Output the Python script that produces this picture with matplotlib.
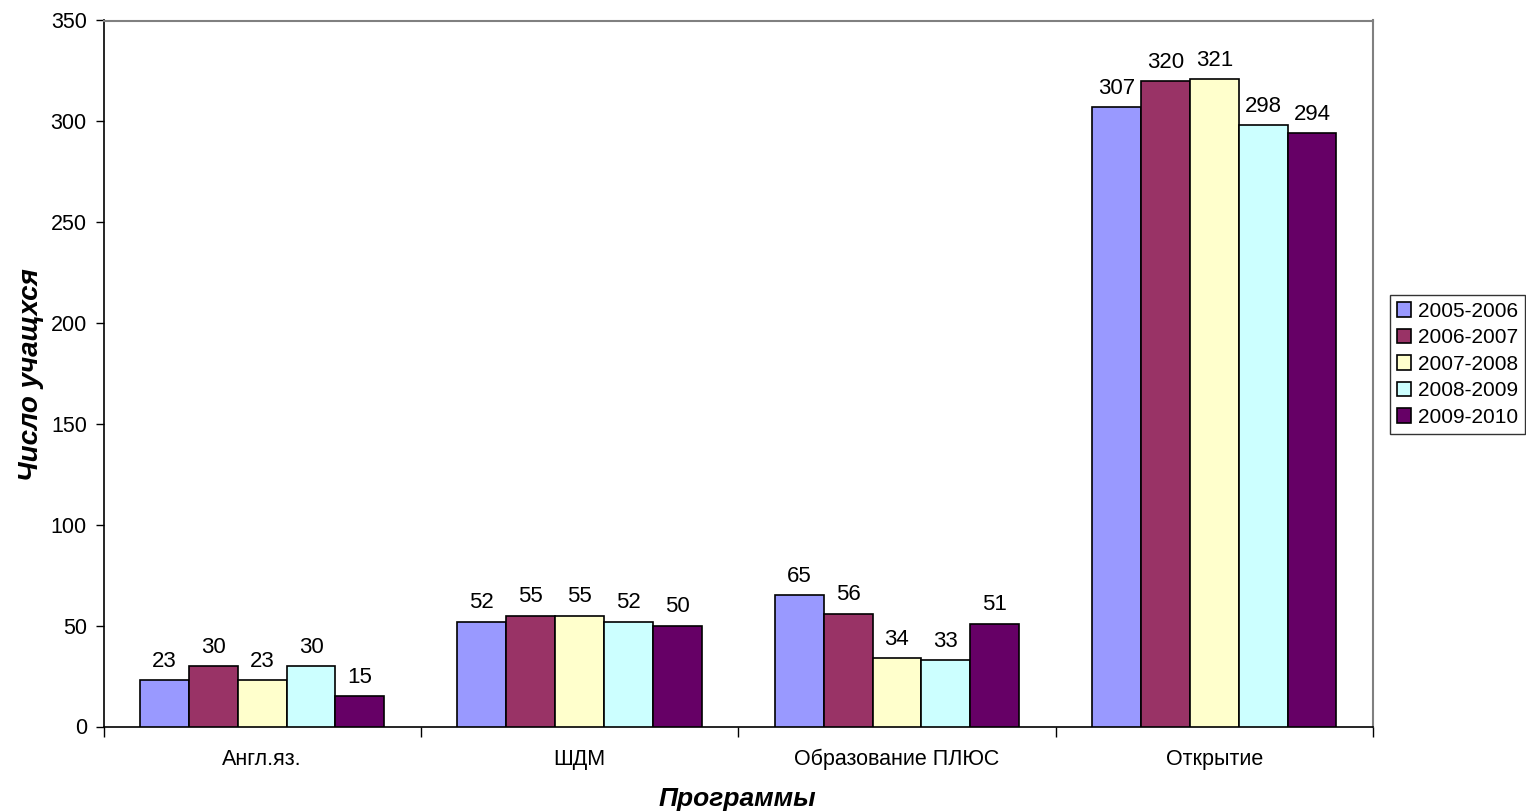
import matplotlib
matplotlib.use("Agg")
import matplotlib.pyplot as plt
import numpy as np

plt.rcParams['font.family'] = ['Liberation Sans', 'DejaVu Sans']

categories = ["Англ.яз.", "ШДМ", "Образование ПЛЮС", "Открытие"]
series_names = ["2005-2006", "2006-2007", "2007-2008", "2008-2009", "2009-2010"]
values = {
    "2005-2006": [23, 52, 65, 307],
    "2006-2007": [30, 55, 56, 320],
    "2007-2008": [23, 55, 34, 321],
    "2008-2009": [30, 52, 33, 298],
    "2009-2010": [15, 50, 51, 294],
}
colors = ["#9999FF", "#993366", "#FFFFCC", "#CCFFFF", "#660066"]
y_ticks = [0, 50, 100, 150, 200, 250, 300, 350]

fig = plt.figure(figsize=(15.26, 8.11), dpi=100)
ax = fig.add_axes([103.5 / 1526, 84.5 / 811, (1373 - 103.5) / 1526, (726.5 - 20.5) / 811])

n = len(series_names)
gap = 1.5
bw = 1.0 / (n + gap)
x = np.arange(len(categories))
for i, name in enumerate(series_names):
    pos = x - (n * bw) / 2 + bw * (i + 0.5)
    bars = ax.bar(pos, values[name], width=bw, color=colors[i], edgecolor="black",
                  linewidth=1.2, label=name, zorder=3)
    for b, v in zip(bars, values[name]):
        ax.annotate(str(v), (b.get_x() + b.get_width() / 2, v), xytext=(0, 6),
                    textcoords="offset points", ha="center", va="bottom", fontsize=16)

ax.set_xlim(-0.5, len(categories) - 0.5)
ax.set_ylim(0, 350)
ax.set_yticks(y_ticks)
ax.tick_params(axis="y", direction="out", length=6, width=1, labelsize=15.5, pad=6)

ax.set_xticks(np.arange(-0.5, len(categories), 1.0))
ax.set_xticklabels([])
ax.tick_params(axis="x", which="major", direction="out", length=7, width=1)
ax.set_xticks(x, minor=True)
ax.set_xticklabels(categories, minor=True, fontsize=15.5)
ax.tick_params(axis="x", which="minor", length=0, pad=16)

for s in ["left", "bottom"]:
    ax.spines[s].set_color("black")
    ax.spines[s].set_linewidth(1.2)
for s in ["top", "right"]:
    ax.spines[s].set_color("#808080")
    ax.spines[s].set_linewidth(1.5)

fig.text(31 / 1526, 1 - 375 / 811, "Число учащхся", fontsize=20, fontweight="bold",
         fontstyle="italic", rotation=90, ha="center", va="center")
fig.text(737 / 1526, 1 - 799 / 811, "Программы", fontsize=19, fontweight="bold",
         fontstyle="italic", ha="center", va="center")

leg = fig.legend(*ax.get_legend_handles_labels(), loc="center left",
                 bbox_to_anchor=(1390 / 1526, 1 - 364.5 / 811),
                 fontsize=15, frameon=True, fancybox=False,
                 edgecolor="black", handlelength=0.7, handleheight=0.7, handletextpad=0.3,
                 labelspacing=0.36, borderpad=0.33, borderaxespad=0)
leg.get_frame().set_linewidth(1.0)

fig.savefig("out.png", dpi=100)
